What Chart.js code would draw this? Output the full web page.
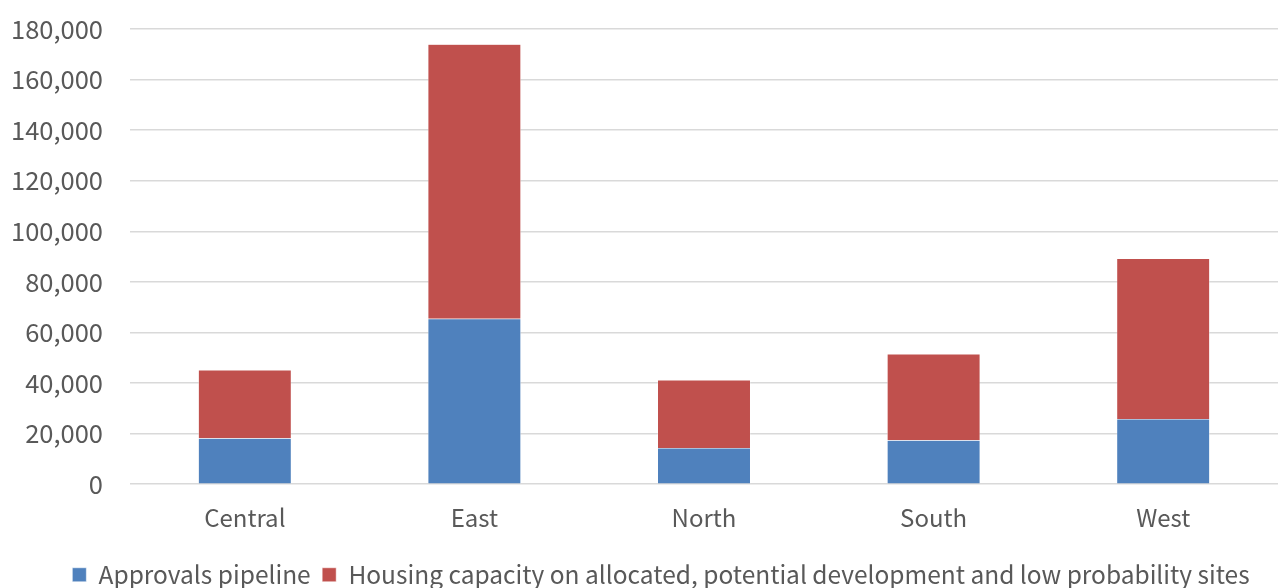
<!DOCTYPE html>
<html>
<head>
<meta charset="utf-8">
<style>
  html, body { margin: 0; padding: 0; background: #fff; }
  #wrap { width: 1278px; height: 588px; }
</style>
<script src="https://cdn.jsdelivr.net/npm/chart.js"></script>
</head>
<body>
<div id="wrap"><canvas id="chart" width="1278" height="588"></canvas></div>
<script>
const categories = ['Central', 'East', 'North', 'South', 'West'];
const approvals = [18200, 65400, 14300, 17400, 25800];
const capacity = [27000, 108600, 26900, 34100, 63400];
const seriesNames = ['Approvals pipeline', 'Housing capacity on allocated, potential development and low probability sites'];

const fontFamily = '"Noto Sans CJK KR", "Noto Sans", sans-serif';
const textColor = '#595959';

// legend in the original sits a little right of the canvas centre
const legendShift = {
  id: 'legendShift',
  beforeDraw(chart) {
    chart.legend.left = 44;
  }
};

new Chart(document.getElementById('chart').getContext('2d'), {
  type: 'bar',
  data: {
    labels: categories,
    datasets: [
      { label: seriesNames[0], data: approvals, backgroundColor: '#4F81BD', borderColor: '#ffffff', borderWidth: 0.5 },
      { label: seriesNames[1], data: capacity, backgroundColor: '#C0504D', borderColor: '#ffffff', borderWidth: 0.5 }
    ]
  },
  plugins: [legendShift],
  options: {
    responsive: false,
    animation: false,
    categoryPercentage: 1,
    barPercentage: 0.405,
    layout: { padding: { top: 0, left: 0, right: 0, bottom: -9 } },
    plugins: {
      legend: {
        position: 'bottom',
        labels: {
          font: { family: fontFamily, size: 24.5 },
          color: textColor,
          boxWidth: 14,
          boxHeight: 14,
          padding: 11.5
        }
      },
      tooltip: { enabled: false }
    },
    scales: {
      x: {
        stacked: true,
        grid: { display: false, drawTicks: false },
        border: { display: false },
        ticks: { font: { family: fontFamily, size: 24 }, color: textColor, padding: 19 }
      },
      y: {
        stacked: true,
        min: 0,
        max: 180000,
        afterFit: (s) => { s.width = 130; s.paddingTop = 29; s.paddingBottom = 0; },
        grid: { color: '#D9D9D9', lineWidth: 1.5, drawTicks: false },
        border: { display: false },
        ticks: {
          stepSize: 20000,
          font: { family: fontFamily, size: 25.5 },
          color: textColor,
          padding: 27,
          callback: (v) => v.toLocaleString('en-US')
        }
      }
    }
  }
});
</script>
</body>
</html>
